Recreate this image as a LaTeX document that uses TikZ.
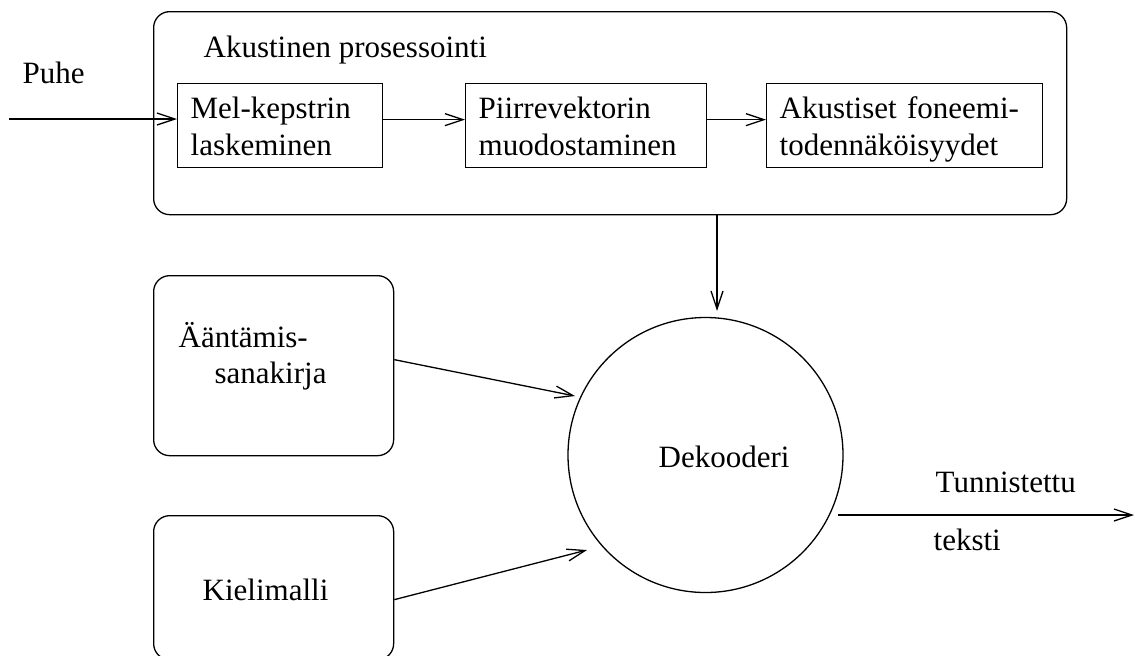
\documentclass[tikz,border=0pt]{standalone}
\usepackage{fontspec}
\setmainfont{Liberation Serif}
\usetikzlibrary{arrows.meta}
\begin{document}
\begin{tikzpicture}[x=0.5pt,y=-0.5pt,line width=0.65pt,
  font=\fontsize{15.5}{18.5}\selectfont,
  arr/.style={-{Straight Barb[length=9pt,width=6pt]}},
  sbox/.style={draw,rectangle,anchor=north west,align=left,minimum height=42pt,
    inner xsep=6.5pt,inner ysep=0pt,text height=11.5pt,text depth=18.5pt},
  rbox/.style={draw,rectangle,rounded corners=8pt,anchor=north west,inner sep=0pt},
  lbl/.style={anchor=base west,inner sep=0pt}]
\useasboundingbox (0,0) rectangle (1135,655);
\clip (0,0) rectangle (1135,655);
% big processing box
\node[rbox,minimum width=456.5pt,minimum height=101.5pt] (proc) at (153,11) {};
\node[lbl] (proctitle) at (203,57) {Akustinen prosessointi};
\node[lbl] (puhe) at (22,83) {Puhe};
% inner boxes
\node[sbox,text width=89.5pt] (m1) at (177,83) {Mel-kepstrin\\laskeminen};
\node[sbox,text width=107.5pt] (m2) at (465,83) {Piirrevektorin\\muodostaminen};
\node[sbox,text width=125pt] (m3) at (766,83) {Akustiset foneemi-\\todennäköisyydet};
% lower boxes
\node[rbox,minimum width=120pt,minimum height=90pt] (dict) at (153,275) {};
\node[lbl] (dictt1) at (178,347) {Ääntämis-};
\node[lbl] (dictt2) at (214,383) {sanakirja};
\node[rbox,minimum width=120pt,minimum height=72pt] (lm) at (153,515) {};
\node[lbl] (lmt) at (202,600) {Kielimalli};
% decoder
\node[draw,circle,minimum size=137.5pt,inner sep=0pt] (dec) at (705.5,455) {};
\node[lbl] (dect) at (658,467) {Dekooderi};
% output labels
\node[lbl] (tun) at (935,492) {Tunnistettu};
\node[lbl] (tek) at (933,550) {teksti};
% coordinates
\coordinate (src) at (9,119);
\coordinate (in0) at (717,311);
\coordinate (in1) at (575,396);
\coordinate (in2) at (587,550);
\coordinate (out0) at (838,515);
\coordinate (out1) at (1134,515);
% connectors
\draw[arr] (src) -- (src -| m1.west);
\draw[arr] ([yshift=3pt]m1.east) -- ([yshift=3pt]m2.west);
\draw[arr] ([yshift=3pt]m2.east) -- ([yshift=3pt]m3.west);
\draw[arr] (proc.south -| in0) -- (in0);
\draw[arr] ([yshift=3pt]dict.east) -- (in1);
\draw[arr] ([yshift=-6pt]lm.east) -- (in2);
\draw[arr] (out0) -- (out1);
\end{tikzpicture}
\end{document}
